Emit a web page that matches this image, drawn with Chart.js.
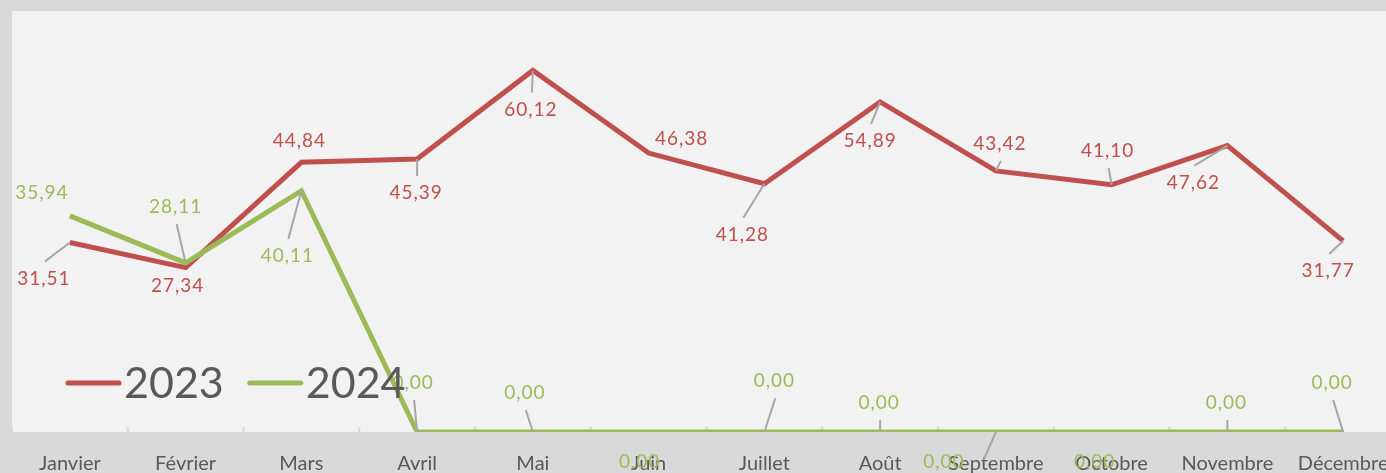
<!DOCTYPE html>
<html>
<head>
<meta charset="utf-8">
<script src="https://cdn.jsdelivr.net/npm/chart.js@4"></script>
<style>
  html, body { margin: 0; padding: 0; overflow: hidden; background: #d9d9d9; }
  #wrap { width: 1402px; height: 473px; }
</style>
</head>
<body>
<div id="wrap"><canvas id="salesChart" width="1402" height="473"></canvas></div>
<script>
var months = ['Janvier', 'Février', 'Mars', 'Avril', 'Mai', 'Juin', 'Juillet', 'Août', 'Septembre', 'Octobre', 'Novembre', 'Décembre'];
var seriesNames = ['2023', '2024'];
var values2023 = [31.51, 27.34, 44.84, 45.39, 60.12, 46.38, 41.28, 54.89, 43.42, 41.10, 47.62, 31.77];
var values2024 = [35.94, 28.11, 40.11, 0, 0, 0, 0, 0, 0, 0, 0, 0];

var red = '#c0504d';
var green = '#9bbb59';
var textGrey = '#595959';

// where each data label sits, relative to its point, and how its leader line leaves it
// ('v' = from top/bottom of label, 'h' = from the side, '' = no leader)
var labelPlacement = [
  {
    offsets: [[-26, 36], [-8, 18], [-2, -21], [-1, 34], [-2, 39], [33, -14], [-22, 51], [-10, 39], [4, -27], [-4, -34], [-34, 37], [-15, 30]],
    leaders: ['v', '', '', 'v', 'v', '', 'v', 'v', 'v', 'v', 'v', 'v']
  },
  {
    offsets: [[-28, -23], [-10, -56], [-14, 65], [-4, -49], [-8, -39], [-9, 30], [10, -51], [-1, -29], [-52, 30], [-17, 30], [-1, -29], [-11, -49]],
    leaders: ['', 'v', 'v', 'v', 'v', '', 'v', 'v', 'h', '', 'v', 'v']
  }
];

function formatValue(v) {
  return v.toFixed(2).replace('.', ',');
}

// grey page + light plot area
var backgroundPlugin = {
  id: 'background',
  beforeDraw: function(chart) {
    var ctx = chart.ctx;
    var area = chart.chartArea;
    ctx.save();
    ctx.fillStyle = '#d9d9d9';
    ctx.fillRect(0, 0, chart.width, chart.height);
    ctx.fillStyle = '#f2f2f2';
    ctx.fillRect(area.left, area.top, area.right - area.left, area.bottom - area.top);
    // small tick marks between categories
    var xScale = chart.scales.x;
    ctx.strokeStyle = '#d9d9d9';
    ctx.lineWidth = 2;
    for (var i = 0; i <= months.length; i++) {
      var x = xScale.getPixelForValue(i - 0.5);
      ctx.beginPath();
      ctx.moveTo(x, area.bottom - 5);
      ctx.lineTo(x, area.bottom);
      ctx.stroke();
    }
    ctx.restore();
  }
};

// data labels with leader lines, then the legend on top
var labelsPlugin = {
  id: 'valueLabels',
  afterDraw: function(chart) {
    var ctx = chart.ctx;
    ctx.save();
    ctx.font = '19px Lato';
    ctx.letterSpacing = '1px';
    ctx.textAlign = 'center';
    ctx.textBaseline = 'middle';
    chart.data.datasets.forEach(function(ds, d) {
      var meta = chart.getDatasetMeta(d);
      var place = labelPlacement[d];
      meta.data.forEach(function(pt, i) {
        var text = formatValue(ds.data[i]);
        var lx = pt.x + place.offsets[i][0];
        var ly = pt.y + place.offsets[i][1];
        var w = ctx.measureText(text).width;
        var kind = place.leaders[i];
        if (kind) {
          var ex, ey;
          if (kind === 'v') {
            ex = lx + 1;
            ey = ly + (pt.y > ly ? 17 : -17);
          } else {
            ex = lx + (pt.x > lx ? w / 2 + 19 : -w / 2 - 19);
            ey = ly - 2;
          }
          ctx.strokeStyle = '#a6a6a6';
          ctx.lineWidth = 2;
          ctx.beginPath();
          ctx.moveTo(pt.x, pt.y);
          ctx.lineTo(ex, ey);
          ctx.stroke();
        }
        ctx.fillStyle = ds.borderColor;
        ctx.fillText(text, lx, ly);
      });
    });

    // legend inside the plot, lower left
    var area = chart.chartArea;
    var x = area.left + 56;
    var lineY = area.bottom - 49;
    ctx.letterSpacing = '0px';
    ctx.font = '43px Lato';
    ctx.textAlign = 'left';
    ctx.textBaseline = 'alphabetic';
    chart.data.datasets.forEach(function(ds) {
      ctx.strokeStyle = ds.borderColor;
      ctx.lineWidth = 5;
      ctx.lineCap = 'round';
      ctx.beginPath();
      ctx.moveTo(x, lineY);
      ctx.lineTo(x + 51, lineY);
      ctx.stroke();
      ctx.fillStyle = textGrey;
      ctx.fillText(ds.label, x + 56, area.bottom - 34);
      x += 56 + ctx.measureText(ds.label).width + 26;
    });
    ctx.restore();
  }
};

var ctx = document.getElementById('salesChart').getContext('2d');
var salesChart = new Chart(ctx, {
  type: 'line',
  data: {
    labels: months,
    datasets: [{
      label: seriesNames[0],
      data: values2023,
      borderColor: red,
      backgroundColor: red,
      borderWidth: 5,
      pointRadius: 0,
      tension: 0,
      order: 1
    }, {
      label: seriesNames[1],
      data: values2024,
      borderColor: green,
      backgroundColor: green,
      borderWidth: 5,
      pointRadius: 0,
      tension: 0,
      order: 0
    }]
  },
  options: {
    responsive: false,
    animation: false,
    layout: { padding: { left: 12, top: 11, right: 1, bottom: 0 } },
    plugins: {
      legend: { display: false },
      tooltip: { enabled: false }
    },
    scales: {
      x: {
        offset: true,
        grid: { display: false },
        border: { display: false },
        ticks: {
          color: textGrey,
          font: { family: 'Lato', size: 20 },
          padding: 12,
          maxRotation: 0,
          autoSkip: false
        },
        afterFit: function(scale) { scale.height = 41; }
      },
      y: {
        display: false,
        min: 0,
        max: 70
      }
    }
  },
  plugins: [backgroundPlugin, labelsPlugin]
});
</script>
</body>
</html>
